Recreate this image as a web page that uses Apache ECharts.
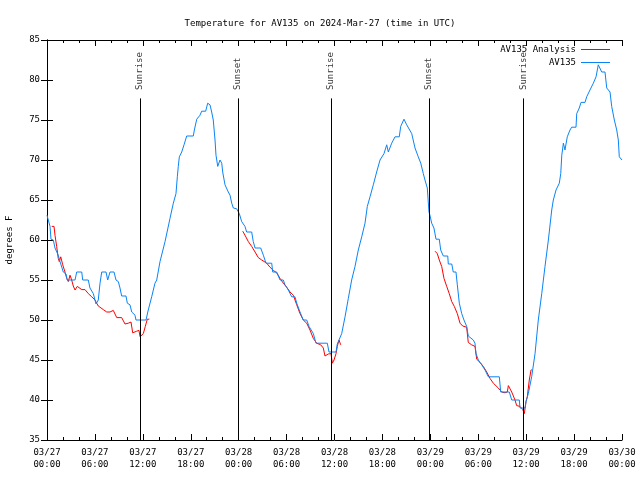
<!DOCTYPE html>
<html><head><meta charset="utf-8">
<script src="https://cdn.jsdelivr.net/npm/echarts@6/dist/echarts.min.js"></script>
<style>html,body{margin:0;padding:0;background:#fff}#c{width:640px;height:480px}</style>
</head><body><div id="c"></div>
<script>
// hours since 2024-03-27 00:00 UTC
const obsHours = [0.00,0.16,0.38,0.50,0.79,1.00,1.41,1.63,2.04,2.38,2.54,3.51,3.72,4.35,4.47,5.17,5.38,5.80,6.01,6.14,6.42,6.64,6.85,7.39,7.60,7.89,8.39,8.64,8.93,9.14,9.35,9.89,10.06,10.39,10.61,11.02,11.14,12.40,12.68,13.11,13.52,13.74,14.15,14.78,15.40,15.82,16.15,16.32,16.44,16.57,16.87,17.16,17.49,18.32,18.45,18.75,19.16,19.37,19.87,20.12,20.41,20.62,20.82,21.04,21.16,21.38,21.66,21.88,22.00,22.29,22.70,22.92,23.13,23.33,23.75,24.08,24.38,24.79,25.00,25.63,25.83,26.05,26.76,27.09,27.42,28.14,28.26,28.76,29.18,29.59,29.80,30.22,30.64,31.05,31.27,31.68,32.09,32.52,32.81,33.35,33.68,35.10,35.31,36.19,36.35,36.90,37.32,37.73,38.15,38.57,38.98,39.41,39.82,40.11,40.45,40.86,41.28,41.70,42.20,42.54,42.74,43.16,43.58,44.11,44.29,44.70,45.04,45.67,46.08,46.49,46.80,47.12,47.33,47.62,47.83,47.95,48.17,48.45,48.71,49.12,49.30,49.63,50.18,50.25,50.68,50.87,51.21,51.38,51.63,51.93,52.21,52.55,52.75,53.38,53.59,53.72,54.01,54.43,54.85,55.26,56.64,56.81,57.89,58.19,59.14,59.23,59.86,59.98,60.27,60.69,61.11,61.52,61.95,62.36,62.78,63.20,63.40,63.74,64.15,64.33,64.46,64.66,64.86,65.15,65.49,65.70,66.24,66.33,66.65,66.87,67.37,67.58,67.99,68.41,68.75,69.03,69.25,69.46,69.87,70.09,70.50,70.71,71.04,71.34,71.54,71.66,72.00];
const obsTemps = [63.1,62.5,61.7,60.1,60.0,59.0,58.1,57.3,56.0,55.75,55.0,55.0,56.0,56.0,55.0,55.0,54.0,53.3,52.5,52.0,52.5,54.6,56.0,56.0,55.0,56.0,56.0,55.0,54.8,54.0,53.0,53.0,52.1,51.9,51.0,50.6,50.0,50.0,51.25,52.9,54.6,55.0,57.3,59.8,62.7,64.6,65.8,67.9,69.2,70.4,71.0,71.9,73.0,73.0,73.75,75.1,75.6,76.1,76.1,77.1,76.9,76.0,75.0,72.5,70.6,69.2,70.0,69.6,68.5,66.9,66.0,65.6,64.6,64.0,63.9,63.3,62.3,61.7,61.0,61.0,59.8,59.0,59.0,58.1,57.1,57.1,56.0,56.0,55.0,55.0,54.4,53.75,52.9,52.9,52.1,51.0,50.0,50.0,49.2,48.3,47.1,47.1,46.0,46.0,47.0,48.3,50.4,52.7,55.0,56.7,58.75,60.4,62.1,64.2,65.4,66.9,68.5,70.0,70.8,71.9,71.0,72.1,72.9,72.9,74.2,75.1,74.4,73.3,71.5,70.4,69.6,68.3,67.5,66.5,63.5,63.1,62.1,61.5,60.1,60.1,58.75,58.0,58.0,57.0,57.0,56.0,56.0,54.4,52.1,50.8,50.0,49.2,48.0,47.5,47.1,45.8,45.0,44.4,43.75,42.9,42.9,41.0,41.0,40.0,40.0,39.0,39.0,39.8,40.8,42.9,45.8,50.0,53.3,56.7,60.0,63.75,65.0,66.25,67.1,68.3,70.6,72.1,71.25,72.9,73.75,74.1,74.1,75.8,76.5,77.2,77.2,77.9,78.75,79.6,80.4,81.9,82.1,81.0,81.0,79.0,78.5,76.7,75.0,73.75,72.5,70.4,70.0];

const anaHours = [0.59,0.88,1.00,1.21,1.41,1.54,1.72,1.97,2.25,2.47,2.67,2.88,3.09,3.29,3.51,3.79,4.35,4.76,5.17,5.60,6.01,6.22,6.42,6.64,7.05,7.48,7.89,8.30,8.51,8.73,9.35,9.77,10.18,10.52,10.73,11.23,11.52,11.65,11.86,12.06,12.31,12.56,12.81,18.00,
24.51,24.79,25.21,25.63,26.05,26.46,26.89,27.51,27.92,28.34,28.76,29.18,29.59,30.01,30.43,30.84,31.27,31.68,32.09,32.52,32.93,33.35,33.77,34.27,34.60,34.81,35.22,35.56,35.73,35.94,36.19,36.35,36.56,36.78,42.00,
48.59,48.87,49.12,49.42,49.71,50.05,50.37,50.68,51.00,51.38,51.72,52.05,52.55,52.75,53.17,53.59,53.81,54.22,54.63,55.06,55.47,55.89,56.51,56.94,57.35,57.64,57.77,58.19,58.60,58.81,59.23,59.57,59.77,59.98,60.14,60.39,60.61,60.69];
const anaTemps = [61.7,61.7,60.6,59.2,57.7,57.3,57.9,56.9,56.0,55.2,54.8,55.6,55.0,54.25,53.75,54.2,53.8,53.8,53.3,52.9,52.5,52.1,51.75,51.5,51.3,51.0,51.0,51.2,51.25,50.3,50.3,49.5,49.6,49.75,48.4,48.6,48.7,47.9,47.7,48.3,49.2,50.1,50.1,null,
61.1,60.6,59.8,59.2,58.5,57.8,57.5,57.1,56.6,56.2,55.9,55.2,54.6,54.1,53.5,53.1,51.9,50.8,50.0,49.6,48.75,47.7,47.1,46.9,46.5,45.5,45.75,45.8,44.6,45.0,45.8,46.7,47.5,46.9,null,
58.6,58.3,57.5,56.7,55.2,54.2,53.3,52.3,51.7,50.8,49.6,49.25,49.1,47.2,46.9,46.7,45.1,44.7,44.2,43.5,42.7,42.1,41.5,41.0,40.9,41.0,41.8,41.0,40.0,39.3,39.2,38.8,38.3,39.8,40.4,42.5,43.75,43.8];

const sunHours = [11.65, 23.93, 35.58, 47.85, 59.63];
const sunNames = ['Sunrise', 'Sunset', 'Sunrise', 'Sunset', 'Sunrise'];

const dateTickLabels = ['03/27','03/27','03/27','03/27','03/28','03/28','03/28','03/28','03/29','03/29','03/29','03/29','03/30'];
const timeTickLabels = ['00:00','06:00','12:00','18:00','00:00','06:00','12:00','18:00','00:00','06:00','12:00','18:00','00:00'];
const yTicks = [35,40,45,50,55,60,65,70,75,80,85];

const FONT = 'DejaVu Sans Mono';
const zip = (a, b) => a.map((x, i) => [x, b[i]]);

const chart = echarts.init(document.getElementById('c'), null, {renderer: 'canvas'});
const axisLine = {show: true, lineStyle: {color: '#000', width: 1}};
const xCommon = {
  type: 'value', min: 0, max: 72, interval: 6,
  axisLine, splitLine: {show: false},
  axisTick: {show: true, inside: true, length: 6, lineStyle: {color: '#000'}},
  minorTick: {show: true, splitNumber: 3, length: 3, lineStyle: {color: '#000'}},
  minorSplitLine: {show: false}
};
const yCommon = {
  type: 'value', min: yTicks[0], max: yTicks[yTicks.length - 1], interval: 5,
  axisLine, splitLine: {show: false},
  axisTick: {show: true, inside: true, length: 6, lineStyle: {color: '#000'}}
};
chart.setOption({
  animation: false,
  backgroundColor: '#fff',
  textStyle: {fontFamily: FONT},
  title: {
    text: 'Temperature for AV135 on 2024-Mar-27 (time in UTC)',
    left: 'center', top: 14,
    textStyle: {fontFamily: FONT, fontSize: 9, fontWeight: 'normal', color: '#000'}
  },
  legend: {
    orient: 'vertical', right: 30, top: 44, align: 'right', padding: 0,
    itemWidth: 29, itemHeight: 1, itemGap: 2, icon: 'rect',
    textStyle: {fontFamily: FONT, fontSize: 9, color: '#000', lineHeight: 11},
    data: ['AV135 Analysis', 'AV135']
  },
  grid: {left: 47, right: 18, top: 40, bottom: 40, containLabel: false, outerBoundsMode: 'none'},
  xAxis: [
    Object.assign({}, xCommon, {
      position: 'bottom',
      axisLabel: {
        show: true, margin: 7, color: '#000', fontFamily: FONT, fontSize: 9, lineHeight: 12,
        hideOverlap: false,
        formatter: v => { const i = Math.round(v / 6); return dateTickLabels[i] + '\n' + timeTickLabels[i]; }
      }
    }),
    Object.assign({}, xCommon, {position: 'top', axisLabel: {show: false}})
  ],
  yAxis: [
    Object.assign({}, yCommon, {
      position: 'left',
      name: 'degrees F', nameLocation: 'middle', nameGap: 33, nameRotate: 90,
      nameTextStyle: {fontFamily: FONT, fontSize: 9, color: '#000'},
      axisLabel: {show: true, margin: 7, color: '#000', fontFamily: FONT, fontSize: 9}
    }),
    Object.assign({}, yCommon, {position: 'right', axisLabel: {show: false}})
  ],
  series: [
    {
      name: 'AV135 Analysis', type: 'line', data: zip(anaHours, anaTemps),
      showSymbol: false, symbol: 'none', connectNulls: false,
      lineStyle: {color: '#ff0000', width: 1}, itemStyle: {color: '#ff0000'}, z: 3
    },
    {
      name: 'AV135', type: 'line', data: zip(obsHours, obsTemps),
      showSymbol: false, symbol: 'none',
      lineStyle: {color: '#0a84f5', width: 1}, itemStyle: {color: '#0a84f5'}, z: 4
    },
    {
      name: 'sun', type: 'scatter', symbolSize: 0, silent: true,
      data: sunHours.map((t, i) => ({value: [t, 78.5], name: sunNames[i]})),
      label: {
        show: true, position: 'inside', rotate: 90, align: 'left', verticalAlign: 'middle',
        formatter: p => p.name, fontFamily: FONT, fontSize: 9, color: '#000', offset: [2, 0]
      },
      markLine: {
        silent: true, symbol: 'none', label: {show: false},
        lineStyle: {color: '#000', width: 1, type: 'solid'},
        data: sunHours.map(t => [{coord: [t, 35]}, {coord: [t, 77.7]}])
      }
    }
  ]
});
</script></body></html>
